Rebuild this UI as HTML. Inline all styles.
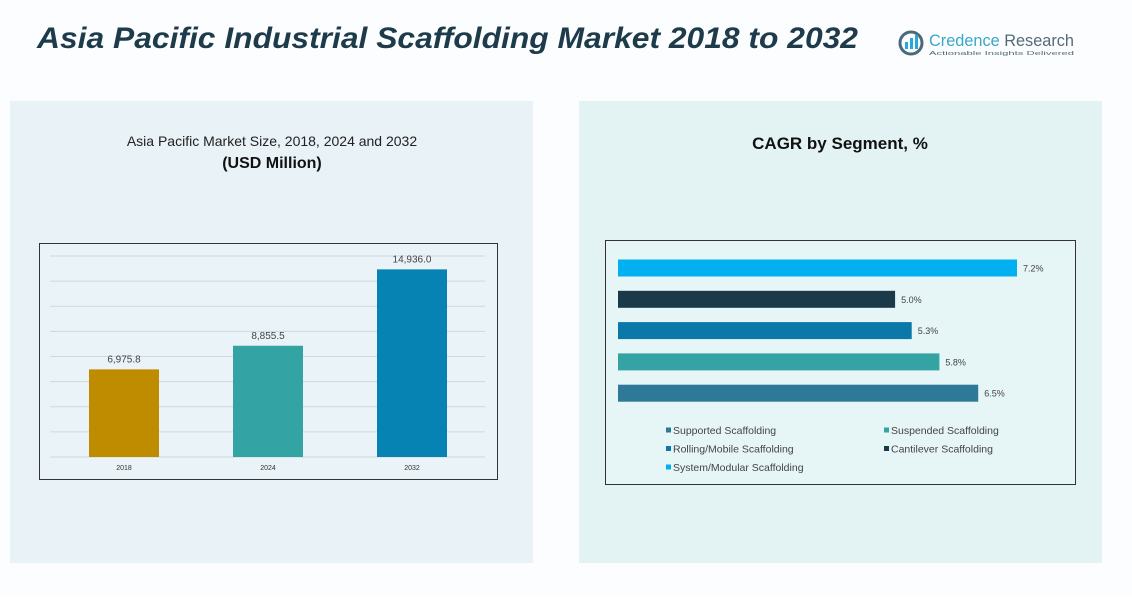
<!DOCTYPE html>
<html><head><meta charset="utf-8"><style>
body{margin:0;width:1132px;height:595px;background:#fff;overflow:hidden;font-family:"Liberation Sans",sans-serif}
svg text{font-family:"Liberation Sans",sans-serif}
</style></head><body>
<svg width="1132" height="595" viewBox="0 0 1132 595">
<rect x="0" y="0" width="1132" height="595" fill="#fbfdfe"/>
<text x="37" y="48" font-size="30" font-weight="bold" font-style="italic" fill="#1d3b4a" textLength="821" lengthAdjust="spacingAndGlyphs">Asia Pacific Industrial Scaffolding Market 2018 to 2032</text>
<g>
<circle cx="911" cy="43" r="11" fill="none" stroke="#4a6a7a" stroke-width="3"/>
<rect x="905" y="42" width="3" height="7" fill="#29a8d8"/><rect x="910" y="38" width="3" height="11" fill="#29a8d8"/><rect x="915" y="35" width="3" height="14" fill="#29a8d8"/>
<text x="929" y="46" font-size="17" fill="#3aa8c8" textLength="145" lengthAdjust="spacingAndGlyphs">Credence <tspan fill="#556b78">Research</tspan></text>
<text x="929" y="55" font-size="5.5" fill="#556b78" textLength="145" lengthAdjust="spacingAndGlyphs">Actionable Insights Delivered</text>
</g>
<rect x="10" y="101" width="523" height="462" fill="#e8f2f7"/>
<rect x="579" y="101" width="523" height="462" fill="#e3f3f4"/>
<text x="272" y="146" font-size="14" fill="#222" text-anchor="middle">Asia Pacific Market Size, 2018, 2024 and 2032</text>
<text x="272" y="168" font-size="16" font-weight="bold" fill="#111" text-anchor="middle">(USD Million)</text>
<text x="840" y="149" font-size="17" font-weight="bold" fill="#111" text-anchor="middle">CAGR by Segment, %</text>
<rect x="39.5" y="243.5" width="458" height="236" fill="#eaf3f8" stroke="#333" stroke-width="1"/>
<g id="left"></g>
<rect x="605.5" y="240.5" width="470" height="244" fill="#e6f5f6" stroke="#333" stroke-width="1"/>
<g id="right"></g>
</svg>
<script>
const years=["2018","2024","2032"];
const sizes=[6975.8,8855.5,14936.0];
const sizeLabels=["6,975.8","8,855.5","14,936.0"];
const barColors=["#bf8c00","#33a3a3","#0682b3"];
const yTicks=[0,2000,4000,6000,8000,10000,12000,14000,16000];
const segments=["System/Modular Scaffolding","Cantilever Scaffolding","Rolling/Mobile Scaffolding","Suspended Scaffolding","Supported Scaffolding"];
const cagr=[7.2,5.0,5.3,5.8,6.5];
const segColors=["#00b0f0","#1a3a4a","#0a78a8","#35a3a3","#2e7898"];
const legendOrder=[4,3,2,1,0];

const NS="http://www.w3.org/2000/svg";
function mk(tag,attrs,parent){const e=document.createElementNS(NS,tag);for(const k in attrs)e.setAttribute(k,attrs[k]);parent.appendChild(e);return e;}
const L=document.getElementById('left');
const yScale=v=>457-v*(201/16000);
const xCenter=i=>124+i*144;
yTicks.forEach(t=>{const g=mk('line',{x1:50,x2:485,y1:yScale(t),y2:yScale(t),stroke:'#cfd8dc','stroke-width':1},L);

});
years.forEach((y,i)=>{
const r=mk('rect',{x:xCenter(i)-35,y:yScale(sizes[i]),width:70,height:457-yScale(sizes[i]),fill:barColors[i]},L);


const t=mk('text',{x:xCenter(i),y:yScale(sizes[i])-7,'font-size':10,fill:'#444','text-anchor':'middle'},L);t.textContent=sizeLabels[i];


const a=mk('text',{x:xCenter(i),y:470,'font-size':7,fill:'#333','text-anchor':'middle'},L);a.textContent=y;


});
const R=document.getElementById('right');
const xs=v=>618+v*(399/7.2);
const yc=i=>268+i*31.3;
segments.forEach((s,i)=>{
const r=mk('rect',{x:618,y:yc(i)-8.5,width:xs(cagr[i])-618,height:17,fill:segColors[i]},R);


const t=mk('text',{x:xs(cagr[i])+6,y:yc(i)+3.5,'font-size':9,fill:'#444'},R);t.textContent=cagr[i].toFixed(1)+'%';


});
legendOrder.forEach((si,k)=>{
const col=k%2,row=Math.floor(k/2);
const x=666+col*218,y=434+row*18.5;
const sq=mk('rect',{x:x,y:y-6.5,width:5,height:5,fill:segColors[si]},R);


const t=mk('text',{x:x+7,y:y,'font-size':10.5,fill:'#444'},R);t.textContent=segments[si];


});
</script>
</body></html>
